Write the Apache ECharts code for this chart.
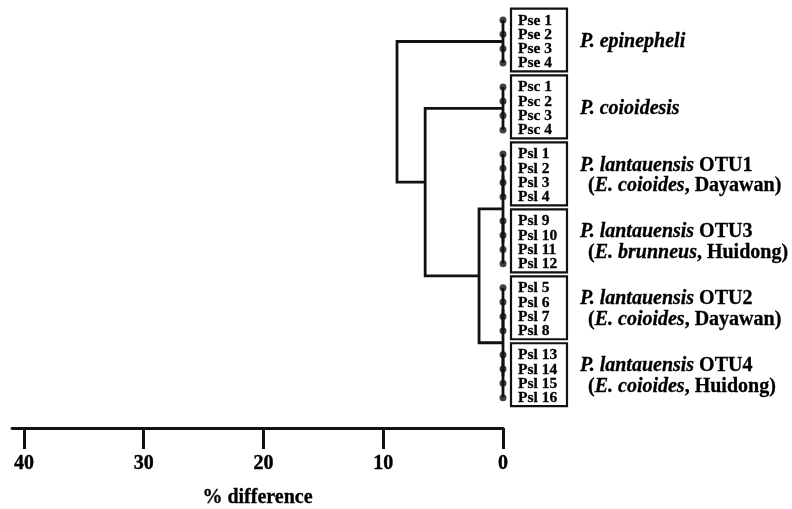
<!DOCTYPE html>
<html><head><meta charset="utf-8">
<script src="https://cdn.jsdelivr.net/npm/echarts@6/dist/echarts.min.js"></script>
<style>html,body{margin:0;padding:0;background:#fff}#c{width:792px;height:509px}</style>
</head><body><div id="c"></div>
<script>
// ---- data ----
const groupLeaves = [
  ['Pse 1','Pse 2','Pse 3','Pse 4'],
  ['Psc 1','Psc 2','Psc 3','Psc 4'],
  ['Psl 1','Psl 2','Psl 3','Psl 4'],
  ['Psl 9','Psl 10','Psl 11','Psl 12'],
  ['Psl 5','Psl 6','Psl 7','Psl 8'],
  ['Psl 13','Psl 14','Psl 15','Psl 16']
];
// rich-text lines for each group label
const groupLabels = [
  ['{i|P. epinepheli}'],
  ['{i|P. coioidesis}'],
  ['{i|P. lantauensis}{b| OTU1}', '{b|(}{i|E. coioides}{b|, Dayawan)}'],
  ['{i|P. lantauensis}{b| OTU3}', '{b|(}{i|E. brunneus}{b|, Huidong)}'],
  ['{i|P. lantauensis}{b| OTU2}', '{b|(}{i|E. coioides}{b|, Dayawan)}'],
  ['{i|P. lantauensis}{b| OTU4}', '{b|(}{i|E. coioides}{b|, Huidong)}']
];
// % difference within each group
const groupHeights = [0, 0, 0, 0, 0, 0];
// merges: [child A, child B, % difference]; clusters 0-5 are the groups, new clusters numbered 6..
const merges = [
  [2, 3, 0],
  [4, 5, 0],
  [6, 7, 2.0],
  [1, 8, 6.5],
  [0, 9, 8.85]
];
// where the parent branch attaches between its two children (0 = A, 1 = B)
const mergeAnchor = [0.5, 0.5, 0.5, 0.44, 0.5];
const xTicks = [0, 10, 20, 30, 40];

// ---- layout (leaf order positions) ----
const groupGap = 0.68;
const leafPos = [];   // [x, y, name]
const clusters = [];  // {h, y, y0, y1}
let idx = 0;
groupLeaves.forEach((g, gi) => {
  const ys = [];
  g.forEach(name => { const y = idx + groupGap * gi; leafPos.push([0, y, name]); ys.push(y); idx++; });
  clusters.push({ h: groupHeights[gi], y: (ys[0] + ys[ys.length - 1]) / 2, y0: ys[0], y1: ys[ys.length - 1] });
});
const links = []; // polylines [[x,y],...]
groupLeaves.forEach((g, gi) => {
  const c = clusters[gi];
  links.push([[c.h, c.y0], [c.h, c.y1]]);
});
merges.forEach((m, mi) => {
  const a = clusters[m[0]], b = clusters[m[1]];
  const h = m[2];
  const y = a.y + (b.y - a.y) * mergeAnchor[mi];
  links.push([[a.h, a.y], [h, a.y], [h, b.y], [b.h, b.y]]);
  clusters.push({ h: h, y: y });
});

const FONT = '"Liberation Serif", "Times New Roman", serif';
const chart = echarts.init(document.getElementById('c'), null, { renderer: 'canvas' });

chart.setOption({
  animation: false,
  backgroundColor: '#fff',
  grid: { left: 12, right: 289, top: 0, bottom: 81, containLabel: false, outerBoundsMode: 'none' },
  xAxis: {
    type: 'value', inverse: true, min: 0, max: 41, interval: 10, position: 'bottom',
    axisLine: { show: true, onZero: false, lineStyle: { color: '#111', width: 2.8 } },
    axisTick: { show: true, inside: false, length: 21, customValues: xTicks, lineStyle: { color: '#111', width: 3 } },
    axisLabel: {
      show: true, margin: 26, color: '#000', fontFamily: FONT, fontWeight: 'bold', fontSize: 20,
      textBorderColor: '#000', textBorderWidth: 0.4,
      customValues: xTicks
    },
    splitLine: { show: false },
    name: '% difference', nameLocation: 'middle', nameGap: 60,
    nameTextStyle: { color: '#000', fontFamily: FONT, fontWeight: 'bold', fontSize: 20, textBorderColor: '#000', textBorderWidth: 0.3 }
  },
  yAxis: {
    type: 'value', inverse: true, min: -1.4, max: 28.52, show: false
  },
  series: [
    {
      type: 'custom', name: 'tree', silent: true,
      data: links.map((l, i) => [i]),
      renderItem: (params, api) => {
        const pts = links[api.value(0)].map(p => api.coord(p));
        return { type: 'polyline', shape: { points: pts }, style: { stroke: '#111', lineWidth: 2.8, fill: null, lineJoin: 'miter' } };
      }
    },
    {
      type: 'scatter', name: 'leaves', silent: true,
      data: leafPos.map(p => [p[0], p[1]]),
      symbol: 'circle', symbolSize: 7,
      itemStyle: { color: '#111' }
    },
    {
      type: 'custom', name: 'boxes', silent: true,
      data: groupLeaves.map((g, i) => [i]),
      renderItem: (params, api) => {
        const gi = api.value(0);
        const c = clusters[gi];
        const p0 = api.coord([0, c.y0]);
        const p1 = api.coord([0, c.y1]);
        const pc = api.coord([0, c.y]);
        const children = [{
          type: 'rect',
          shape: { x: p0[0] + 8, y: p0[1] - 11.5, width: 56, height: p1[1] - p0[1] + 20 },
          style: { stroke: '#111', lineWidth: 2.2, fill: null }
        }];
        const startIdx = groupLeaves.slice(0, gi).reduce((s, g) => s + g.length, 0);
        groupLeaves[gi].forEach((name, k) => {
          const lp = api.coord([0, leafPos[startIdx + k][1]]);
          children.push({
            type: 'text',
            style: { x: lp[0] + 15, y: lp[1] + 0.5, text: name, fill: '#000',
              stroke: '#000', lineWidth: 0.3,
              font: 'bold 15.5px ' + FONT, verticalAlign: 'middle', align: 'left' }
          });
        });
        const lines = groupLabels[gi];
        lines.forEach((ln, k) => {
          const off = lines.length === 1 ? 0 : (k === 0 ? -10 : 10.5);
          children.push({
            type: 'text',
            style: {
              x: pc[0] + 77 + (k === 1 ? 8 : 0), y: pc[1] + off, text: ln,
              verticalAlign: 'middle', align: 'left', fill: '#000',
              rich: {
                i: { fontFamily: FONT, fontStyle: 'italic', fontWeight: 'bold', fontSize: 20, fill: '#000', stroke: '#000', lineWidth: 0.3 },
                b: { fontFamily: FONT, fontWeight: 'bold', fontSize: 20, fill: '#000', stroke: '#000', lineWidth: 0.3 }
              }
            }
          });
        });
        return { type: 'group', children: children };
      }
    }
  ]
});
</script>
</body></html>
